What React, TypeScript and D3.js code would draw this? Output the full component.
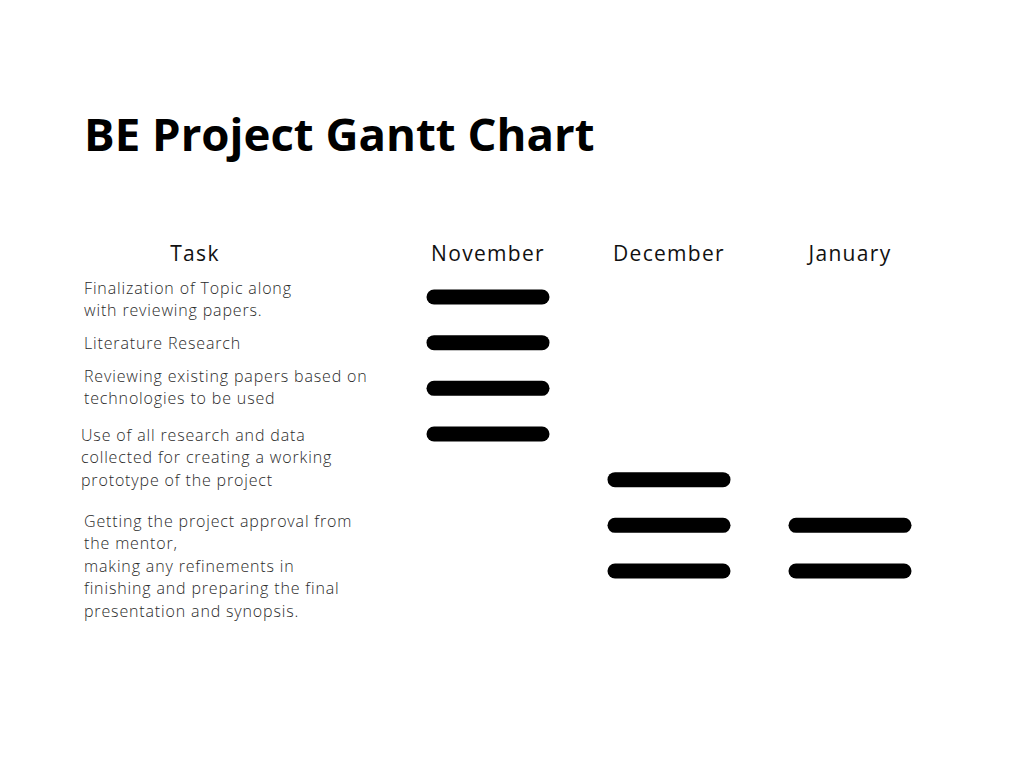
import React, { useEffect, useRef } from "react";
import * as d3 from "d3";

const title = "BE Project Gantt Chart";
const months = ["November", "December", "January"];
const taskHeader = "Task";

// each task label is split into its printed lines
const taskLabels = [
  ["Finalization of Topic along", "with reviewing papers."],
  ["Literature Research"],
  ["Reviewing existing papers based on", "technologies to be used"],
  ["Use of all research and data", "collected for creating a working", "prototype of the project"],
  [
    "Getting the project approval from",
    "the mentor,",
    "making any refinements in",
    "finishing and preparing the final",
    "presentation and synopsis.",
  ],
];

// bar rows (0..6) and the month each bar sits in
const barRows = [0, 1, 2, 3, 4, 5, 6, 5, 6];
const barMonths = ["November", "November", "November", "November", "December", "December", "December", "January", "January"];

const W = 1024;
const H = 768;

// first-line baselines and left edges for the label blocks
const labelTop = [294, 349, 382, 441, 527];
const labelLeft = [84, 84, 84, 81, 84];
const lineHeight = 22.4;

export default function App() {
  const svgRef = useRef<SVGSVGElement>(null);

  useEffect(() => {
    document.body.style.margin = "0";
    const svg = d3.select(svgRef.current);
    svg.selectAll("*").remove();

    svg.append("rect").attr("width", W).attr("height", H).attr("fill", "#fff");

    const x = d3.scaleBand().domain(months).range([397.5, 940.5]);
    const y = d3.scaleLinear().domain([0, 6]).range([297, 571]);
    const half = 54;

    svg.append("text")
      .attr("x", 84)
      .attr("y", 151)
      .attr("font-family", "Open Sans")
      .attr("font-weight", 700)
      .attr("font-size", 45.6)
      .attr("fill", "#000")
      .text(title);

    const head = svg.append("g")
      .attr("font-family", "Open Sans")
      .attr("font-size", 21)
      .attr("letter-spacing", 1.3)
      .attr("fill", "#111")
      .attr("text-anchor", "middle");

    head.append("text").attr("x", 195).attr("y", 261).text(taskHeader);
    head.selectAll("text.month")
      .data(months)
      .join("text")
      .attr("class", "month")
      .attr("x", d => (x(d) as number) + x.bandwidth() / 2)
      .attr("y", 261)
      .text(d => d);

    const labels = svg.append("g")
      .attr("font-family", "Open Sans")
      .attr("font-weight", 300)
      .attr("font-size", 16)
      .attr("letter-spacing", 0.85)
      .attr("fill", "#2a2a2a");

    taskLabels.forEach((lines, i) => {
      labels.append("g")
        .selectAll("text")
        .data(lines)
        .join("text")
        .attr("x", labelLeft[i])
        .attr("y", (d, j) => labelTop[i] + j * lineHeight)
        .text(d => d);
    });

    svg.append("g")
      .selectAll("line")
      .data(barRows.map((r, i) => ({ row: r, month: barMonths[i] })))
      .join("line")
      .attr("x1", d => (x(d.month) as number) + x.bandwidth() / 2 - half)
      .attr("x2", d => (x(d.month) as number) + x.bandwidth() / 2 + half)
      .attr("y1", d => y(d.row))
      .attr("y2", d => y(d.row))
      .attr("stroke", "#000")
      .attr("stroke-width", 15)
      .attr("stroke-linecap", "round");
  }, []);

  return <svg ref={svgRef} width={W} height={H} style={{ display: "block" }} />;
}
